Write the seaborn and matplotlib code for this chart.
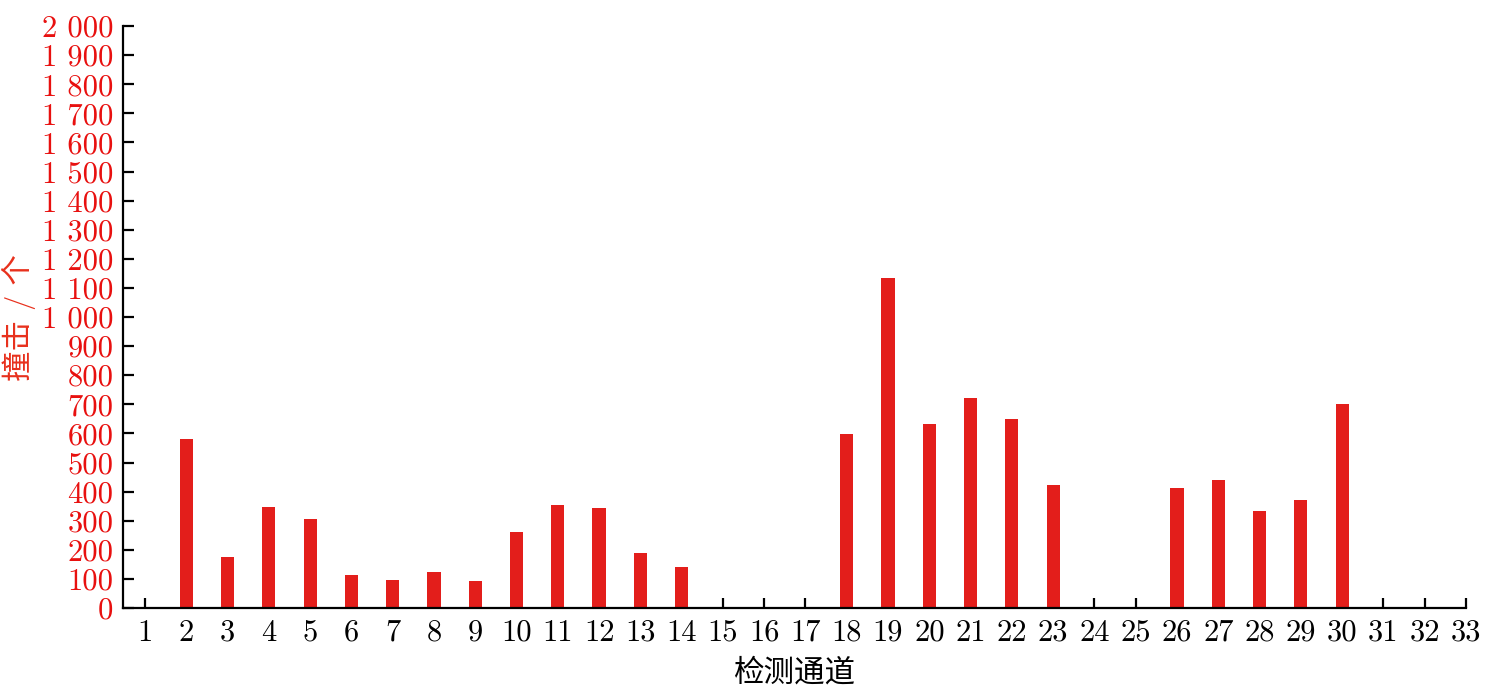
import matplotlib
matplotlib.use('Agg')
import matplotlib.pyplot as plt
import seaborn as sns
import pandas as pd
from matplotlib.ticker import FuncFormatter

# Data
channels = list(range(1, 34))
hits = [0, 580, 176, 348, 305, 113, 96, 123, 93, 262,
        354, 344, 189, 141, 0, 0, 0, 598, 1133, 633,
        723, 651, 422, 0, 0, 412, 440, 334, 372, 700,
        0, 0, 0]
y_ticks = list(range(0, 2001, 100))

RED = '#e31e1b'

sns.set_theme(style="ticks")
plt.rcParams['font.family'] = ['cmr10', 'Noto Sans CJK SC', 'DejaVu Serif']
plt.rcParams['axes.formatter.use_mathtext'] = True

df = pd.DataFrame({'channel': [str(c) for c in channels], 'hits': hits})

fig = plt.figure(figsize=(15.04, 6.87), dpi=100)
ax = fig.add_axes([0.0818, 0.115, 0.8929, 0.847])

sns.barplot(data=df, x='channel', y='hits', color=RED, saturation=1,
            width=0.32, linewidth=0, ax=ax)

ax.set_xlim(-0.533, 32)
ax.set_ylim(0, 2000)
ax.set_yticks(y_ticks)
ax.yaxis.set_major_formatter(FuncFormatter(lambda v, p: f"{int(v):,}".replace(",", " ")))

sns.despine(ax=ax)
for side in ['left', 'bottom']:
    ax.spines[side].set_linewidth(1.6)
    ax.spines[side].set_color('black')

ax.tick_params(axis='y', direction='in', length=8, width=1.6, pad=7,
               labelsize=22, labelcolor='#e8100f', color='black')
ax.tick_params(axis='x', direction='in', length=7, width=1.6, pad=8,
               labelsize=22, labelcolor='black', color='black')
# the 300 tick is grey in the original
ax.yaxis.get_major_ticks()[3].tick1line.set_color('0.6')

ax.set_xlabel('检测通道', fontsize=22, color='black', labelpad=9)
ax.set_ylabel('撞击 / 个', fontsize=22, color='#e8301c', labelpad=4)

fig.savefig('out.png', dpi=100)
